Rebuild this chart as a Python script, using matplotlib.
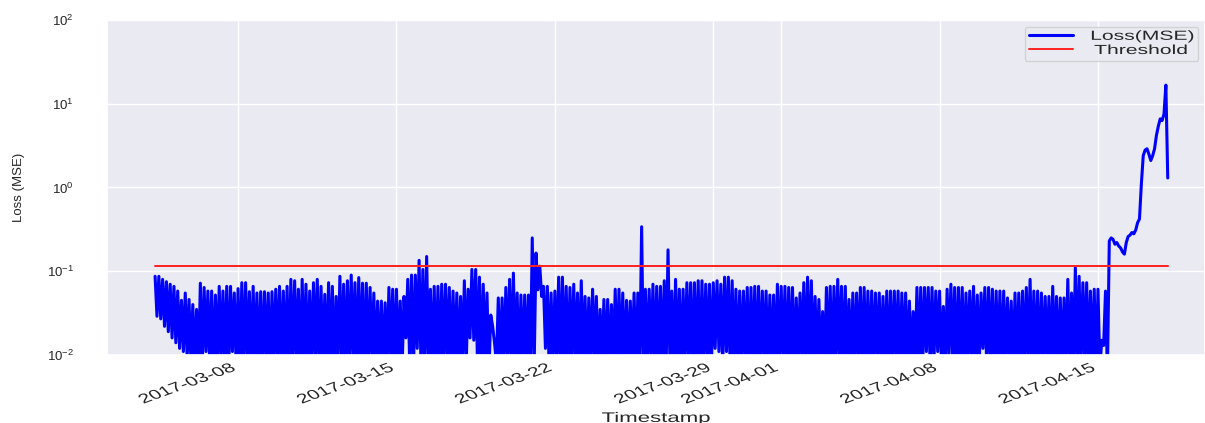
import matplotlib
matplotlib.use("Agg")
import matplotlib.pyplot as plt
import matplotlib.dates as mdates
import pandas as pd
import seaborn as sns
from matplotlib.patheffects import AbstractPathEffect
from matplotlib.transforms import Affine2D

# loss, one value every 4 hours from 2017-03-04 08:00
# loss_hi = top of each swing, loss_lo = bottom of each swing (2 h later)
start = "2017-03-04 08:00"
loss_hi = [
    0.087, 0.087, 0.080, 0.075, 0.070, 0.066, 0.058, 0.045, 0.055, 0.046,
    0.040, 0.035, 0.072, 0.064, 0.058, 0.058, 0.052, 0.066, 0.058, 0.066,
    0.066, 0.055, 0.062, 0.073, 0.073, 0.057, 0.066, 0.055, 0.057, 0.057,
    0.055, 0.057, 0.061, 0.066, 0.058, 0.066, 0.080, 0.077, 0.061, 0.080,
    0.070, 0.058, 0.073, 0.080, 0.066, 0.053, 0.073, 0.066, 0.050, 0.087,
    0.070, 0.077, 0.090, 0.073, 0.084, 0.072, 0.072, 0.064, 0.055, 0.044,
    0.044, 0.042, 0.064, 0.061, 0.061, 0.044, 0.050, 0.080, 0.090, 0.090,
    0.135, 0.105, 0.150, 0.061, 0.066, 0.066, 0.070, 0.070, 0.064, 0.058,
    0.055, 0.050, 0.077, 0.061, 0.105, 0.105, 0.085, 0.070, 0.055, 0.030,
    0.014, 0.048, 0.048, 0.064, 0.080, 0.095, 0.055, 0.052, 0.052, 0.052,
    0.250, 0.165, 0.115, 0.066, 0.066, 0.055, 0.058, 0.085, 0.085, 0.066,
    0.064, 0.070, 0.055, 0.077, 0.050, 0.048, 0.061, 0.050, 0.035, 0.046,
    0.046, 0.040, 0.061, 0.061, 0.055, 0.045, 0.044, 0.055, 0.055, 0.340,
    0.061, 0.061, 0.070, 0.066, 0.066, 0.077, 0.180, 0.058, 0.080, 0.061,
    0.061, 0.073, 0.073, 0.073, 0.077, 0.077, 0.070, 0.070, 0.073, 0.077,
    0.070, 0.085, 0.085, 0.077, 0.061, 0.058, 0.058, 0.064, 0.064, 0.066,
    0.066, 0.058, 0.058, 0.052, 0.052, 0.070, 0.066, 0.066, 0.064, 0.064,
    0.048, 0.055, 0.073, 0.085, 0.077, 0.050, 0.046, 0.033, 0.064, 0.066,
    0.066, 0.080, 0.066, 0.066, 0.046, 0.055, 0.055, 0.064, 0.064, 0.058,
    0.058, 0.055, 0.055, 0.050, 0.058, 0.058, 0.058, 0.058, 0.055, 0.055,
    0.044, 0.033, 0.064, 0.064, 0.064, 0.064, 0.064, 0.058, 0.058, 0.038,
    0.061, 0.070, 0.064, 0.064, 0.064, 0.055, 0.058, 0.066, 0.052, 0.055,
    0.064, 0.064, 0.061, 0.058, 0.058, 0.058, 0.048, 0.044, 0.055, 0.055,
    0.058, 0.064, 0.080, 0.058, 0.058, 0.055, 0.050, 0.050, 0.066, 0.050,
    0.048, 0.048, 0.080, 0.055, 0.110, 0.087, 0.073, 0.073, 0.058, 0.061,
    0.061, 0.015, 0.058,
]
loss_lo = [
    0.029, 0.027, 0.022, 0.019, 0.016, 0.014, 0.012, 0.011, 0.009, 0.008,
    0.007, 0.006, 0.007, 0.011, 0.007, 0.006, 0.007, 0.008, 0.007, 0.006,
    0.011, 0.007, 0.006, 0.007, 0.008, 0.006, 0.007, 0.006, 0.007, 0.008,
    0.006, 0.007, 0.008, 0.006, 0.007, 0.006, 0.007, 0.008, 0.006, 0.007,
    0.006, 0.007, 0.008, 0.006, 0.007, 0.006, 0.007, 0.006, 0.008, 0.007,
    0.006, 0.007, 0.008, 0.006, 0.007, 0.006, 0.007, 0.008, 0.006, 0.007,
    0.006, 0.007, 0.008, 0.006, 0.007, 0.007, 0.016, 0.008, 0.006, 0.012,
    0.007, 0.006, 0.008, 0.006, 0.007, 0.006, 0.007, 0.008, 0.006, 0.007,
    0.006, 0.007, 0.008, 0.016, 0.015, 0.007, 0.006, 0.008, 0.006, 0.022,
    0.008, 0.006, 0.007, 0.008, 0.006, 0.007, 0.006, 0.007, 0.008, 0.006,
    0.007, 0.060, 0.050, 0.012, 0.006, 0.007, 0.008, 0.006, 0.007, 0.006,
    0.007, 0.008, 0.006, 0.007, 0.006, 0.007, 0.008, 0.006, 0.007, 0.006,
    0.007, 0.008, 0.006, 0.007, 0.006, 0.007, 0.008, 0.006, 0.007, 0.006,
    0.007, 0.008, 0.006, 0.007, 0.006, 0.007, 0.008, 0.006, 0.007, 0.006,
    0.007, 0.008, 0.006, 0.007, 0.006, 0.007, 0.008, 0.006, 0.012, 0.011,
    0.007, 0.011, 0.006, 0.007, 0.006, 0.007, 0.008, 0.006, 0.007, 0.006,
    0.007, 0.008, 0.006, 0.007, 0.006, 0.007, 0.008, 0.006, 0.007, 0.006,
    0.007, 0.008, 0.006, 0.007, 0.006, 0.007, 0.008, 0.006, 0.007, 0.006,
    0.007, 0.008, 0.006, 0.007, 0.006, 0.007, 0.008, 0.006, 0.007, 0.006,
    0.007, 0.008, 0.006, 0.007, 0.006, 0.007, 0.008, 0.006, 0.007, 0.006,
    0.007, 0.008, 0.006, 0.007, 0.011, 0.007, 0.008, 0.011, 0.007, 0.006,
    0.010, 0.008, 0.006, 0.007, 0.006, 0.007, 0.008, 0.006, 0.007, 0.012,
    0.007, 0.008, 0.006, 0.007, 0.006, 0.007, 0.008, 0.006, 0.007, 0.006,
    0.007, 0.008, 0.006, 0.007, 0.006, 0.007, 0.008, 0.006, 0.007, 0.006,
    0.007, 0.008, 0.006, 0.007, 0.006, 0.007, 0.008, 0.006, 0.007, 0.006,
    0.007, 0.013, 0.006,
]
# the anomaly at the end, one value every 2 hours
loss_tail = [
    0.23, 0.25, 0.24, 0.21, 0.22, 0.20, 0.19, 0.17, 0.16, 0.22,
    0.26, 0.27, 0.29, 0.28, 0.31, 0.38, 0.42, 1.1, 2.4, 2.8,
    2.9, 2.5, 2.1, 2.4, 2.9, 4.2, 5.4, 6.6, 6.3, 7.5,
    16.7, 1.3,
]
threshold = 0.115


class WideText(AbstractPathEffect):
    """Draw text stretched sideways on screen, one edge kept in place."""

    def __init__(self, sx=1.6, keep="center"):
        super().__init__()
        self.sx = sx
        self.keep = keep

    def draw_path(self, renderer, gc, tpath, affine, rgbFace=None):
        box = tpath.get_extents(affine)
        x0 = {"left": box.x0, "center": (box.x0 + box.x1) / 2, "right": box.x1}[self.keep]
        wide = affine + Affine2D().translate(-x0, 0).scale(self.sx, 1).translate(x0, 0)
        renderer.draw_path(gc, tpath, wide, rgbFace)


# build the time axis
t_hi = pd.date_range(start, periods=len(loss_hi), freq="4h")
t_lo = t_hi + pd.Timedelta(hours=2)
t_tail = pd.date_range(t_hi[-1] + pd.Timedelta(hours=4), periods=len(loss_tail), freq="2h")

times, loss = [], []
for a, b, c, d in zip(t_hi, loss_hi, t_lo, loss_lo):
    times += [a, c]
    loss += [b, d]
times += list(t_tail)
loss += loss_tail
df = pd.DataFrame({"Timestamp": times, "Loss": loss})
df["Threshold"] = threshold

sns.set_theme(style="darkgrid")
plt.rcParams["font.family"] = ["Liberation Sans", "DejaVu Sans"]
plt.rcParams["path.simplify"] = False

fig = plt.figure(figsize=(12.05, 4.23), dpi=100)
ax = fig.add_axes([107 / 1205, 1 - 355 / 423, 1098 / 1205, 335 / 423])

ax.plot(df["Timestamp"], df["Loss"], color="blue", lw=2.2, label="Loss(MSE)")
ax.plot(df["Timestamp"], df["Threshold"], color="#ff2020", lw=1.4, label="Threshold")

ax.set_yscale("log")
ax.set_ylim(1e-2, 1e2)
ax.set_xlim(pd.Timestamp("2017-03-02 05:00"), pd.Timestamp("2017-04-19 17:30"))
ax.xaxis.set_major_locator(mdates.DayLocator(bymonthday=[1, 8, 15, 22, 29]))
ax.xaxis.set_major_formatter(mdates.DateFormatter("%Y-%m-%d"))

ax.tick_params(axis="x", length=0, pad=5, labelsize=9.5, colors=".15")
ax.tick_params(axis="y", length=0, pad=24, labelsize=9.5, colors=".15")
plt.setp(ax.get_xticklabels(), rotation=30, ha="right")
for lab in ax.get_xticklabels():
    lab.set_path_effects([WideText(1.6, "right")])

ax.set_xlabel("Timestamp", fontsize=10, color=".15")
ax.xaxis.set_label_coords(0.5, -0.167)
ax.xaxis.label.set_path_effects([WideText(1.6, "center")])
ax.set_ylabel("Loss (MSE)", fontsize=9.5, color=".15")
ax.yaxis.set_label_coords(-0.075, 0.5)

leg = ax.legend(loc="upper right", fontsize=9.5, borderpad=0.3, labelspacing=0.15,
                handlelength=3.4, handletextpad=4.2, borderaxespad=0.5)
for t in leg.get_texts():
    t.set_path_effects([WideText(1.6, "right")])

fig.savefig("out.png", dpi=100)
